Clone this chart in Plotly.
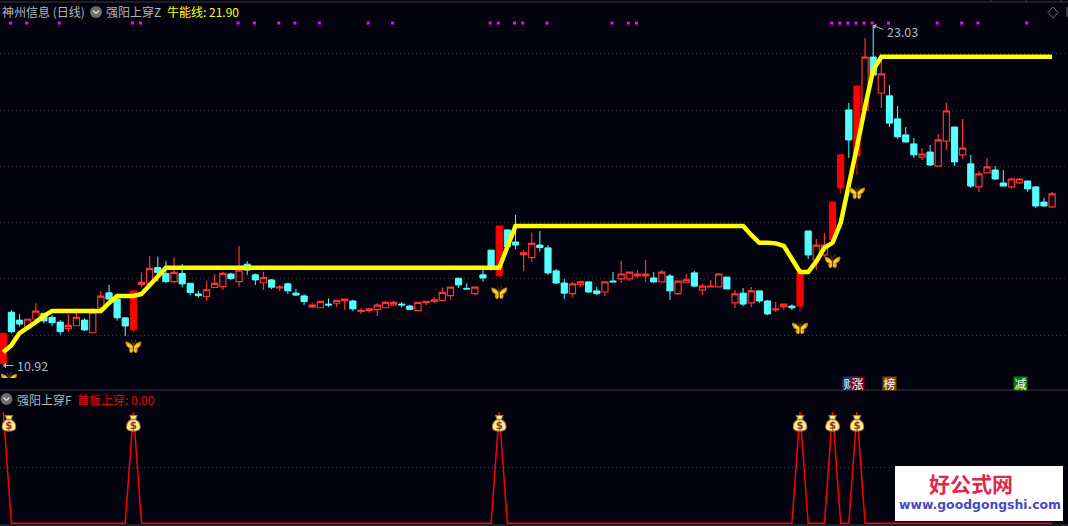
import plotly.graph_objects as go
from urllib.parse import quote

W, H = 1068, 526
BG = "#03030f"

open_ = [10.99,12.81,12.53,12.24,12.57,12.77,12.63,12.46,12.23,12.33,12.53,12.08,12.97,13.50,13.28,12.61,12.18,13.80,13.84,14.40,
 14.19,13.90,14.19,13.84,13.46,13.37,13.69,13.72,14.17,13.90,14.52,14.14,13.86,13.96,13.68,13.82,13.49,13.39,13.00,12.97,
 13.10,13.13,13.22,13.21,12.84,12.87,12.90,12.97,13.07,13.10,13.03,12.87,13.15,13.20,13.22,13.40,14.02,13.66,13.47,14.14,
 15.02,14.11,15.74,15.31,14.86,14.75,15.20,15.10,14.28,13.85,13.47,13.79,13.89,13.57,13.53,13.92,14.00,14.00,14.10,14.10,
 14.03,13.89,14.10,13.47,13.86,14.21,13.60,13.71,13.71,14.06,13.14,13.49,13.14,13.57,13.21,12.89,13.01,13.03,13.03,15.70,
 14.67,14.85,15.38,17.23,20.01,18.37,20.01,21.89,20.61,20.51,19.69,19.12,18.80,18.33,18.51,18.01,18.90,19.40,18.41,18.09,
 17.27,17.77,17.87,17.41,17.27,17.41,17.48,17.27,16.73,16.56]
close = [12.06,12.12,12.39,12.56,12.85,12.50,12.44,12.12,12.34,12.63,12.18,12.81,13.38,13.28,12.61,12.32,13.57,13.87,14.37,14.22,
 13.90,14.23,13.82,13.51,13.40,13.61,13.84,14.19,14.01,14.31,14.31,13.96,14.04,13.70,13.71,13.57,13.42,13.19,13.06,13.20,
 13.07,13.23,13.28,12.93,12.88,12.93,13.06,13.16,13.16,13.07,12.91,13.16,13.20,13.25,13.52,13.70,13.78,13.64,13.70,14.03,
 14.43,15.88,15.14,15.20,14.92,15.26,15.11,14.21,13.85,13.49,13.82,13.89,13.53,13.47,13.89,13.89,14.17,14.24,14.17,14.17,
 13.89,14.24,13.57,13.92,13.96,13.74,13.74,13.74,14.17,13.64,13.46,13.10,13.57,13.21,12.75,12.93,13.10,12.97,14.24,14.85,
 15.20,15.20,16.73,18.41,18.94,20.86,21.89,21.25,21.29,19.54,19.05,18.87,18.41,18.44,18.05,18.94,19.97,18.16,18.65,17.30,
 17.73,17.98,17.55,17.30,17.55,17.55,17.20,16.59,16.59,17.02]
high = [12.06,12.89,12.75,12.56,13.13,12.77,12.71,12.53,12.75,12.95,12.59,12.95,13.57,13.78,13.48,12.61,13.57,14.22,14.81,14.79,
 14.63,14.76,14.53,13.84,13.57,13.92,14.16,14.25,14.22,15.17,14.63,14.19,14.25,13.99,13.78,13.87,13.64,13.45,13.16,13.20,
 13.30,13.23,13.28,13.25,12.95,12.97,13.13,13.21,13.21,13.17,13.07,13.16,13.20,13.34,13.70,13.70,14.02,13.84,13.70,14.34,
 15.02,15.88,15.74,16.27,15.02,15.65,15.70,15.20,14.35,13.99,13.89,13.93,13.89,13.71,13.89,14.24,14.63,14.24,14.31,14.67,
 14.24,14.31,14.17,13.92,14.17,14.28,13.82,13.96,14.21,14.06,13.60,13.67,13.71,13.57,13.25,13.17,13.10,13.09,14.24,15.70,
 15.42,15.63,16.73,18.41,20.26,20.86,22.57,23.03,21.79,20.90,20.15,19.40,19.01,18.65,18.76,19.15,20.26,19.40,19.69,18.41,
 17.84,18.30,18.01,17.87,17.59,17.59,17.48,17.30,16.88,17.09]
low = [10.92,12.06,12.30,12.18,12.53,12.42,12.32,12.01,12.12,12.33,12.14,12.08,12.89,13.25,12.51,11.97,12.12,13.70,13.78,13.90,
 13.84,13.84,13.70,13.42,13.33,13.22,13.69,13.60,13.96,13.72,14.14,13.78,13.60,13.63,13.57,13.46,13.39,13.07,12.96,12.97,
 13.00,13.00,12.89,12.85,12.75,12.79,12.68,12.97,13.03,12.98,12.89,12.87,13.07,13.13,13.22,13.25,13.68,13.64,13.42,13.90,
 14.29,14.05,15.08,15.06,14.28,14.61,14.97,14.14,13.82,13.28,13.35,13.71,13.49,13.42,13.39,13.89,13.85,13.92,14.03,13.89,
 13.85,13.89,13.25,13.42,13.86,13.71,13.42,13.71,13.71,13.64,12.96,13.03,13.00,13.14,12.71,12.82,12.89,12.89,12.82,14.70,
 14.31,14.78,15.27,17.02,18.30,17.69,20.01,21.25,20.08,19.40,18.98,18.83,18.30,18.23,18.01,18.01,18.58,18.01,18.26,17.23,
 17.09,17.77,17.52,17.30,17.20,17.37,17.09,16.52,16.56,16.52]
bull_line = [11.39,11.64,12.07,12.25,12.46,12.68,12.85,12.85,12.85,12.85,12.85,12.85,12.85,13.14,13.39,13.39,13.39,13.46,13.78,14.10,
 14.39,14.39,14.39,14.39,14.39,14.39,14.39,14.39,14.39,14.39,14.39,14.39,14.39,14.39,14.39,14.39,14.39,14.39,14.39,14.39,
 14.39,14.39,14.39,14.39,14.39,14.39,14.39,14.39,14.39,14.39,14.39,14.39,14.39,14.39,14.39,14.39,14.39,14.39,14.39,14.39,
 14.39,14.39,15.13,15.88,15.88,15.88,15.88,15.88,15.88,15.88,15.88,15.88,15.88,15.88,15.88,15.88,15.88,15.88,15.88,15.88,
 15.88,15.88,15.88,15.88,15.88,15.88,15.88,15.88,15.88,15.88,15.88,15.88,15.56,15.28,15.28,15.26,15.17,14.67,14.24,14.24,
 14.62,15.10,15.28,15.99,17.27,18.69,20.12,21.43,21.90,21.90,21.90,21.90,21.90,21.90,21.90,21.90,21.90,21.90,21.90,21.90,
 21.90,21.90,21.90,21.90,21.90,21.90,21.90,21.90,21.90,21.90]

filled_idx = [0, 16, 61, 98, 102, 103, 105]
signal_idx = [0, 16, 61, 98, 102, 105]
dot_idx = [1,3,7,16,17,29,31,34,36,39,45,48,60,61,63,64,67,75,77,78,102,103,104,105,106,107,109,115,118,120,126]
dot_level = [23.10]
butterfly_x = [0.69, 16, 61, 98, 102, 105]
butterfly_y = [10.46, 11.61, 13.53, 12.28, 14.63, 17.09]
bag_x = [0.69, 16, 61, 98, 102, 105]
bag_y = [0.90, 0.90, 0.90, 0.90, 0.90, 0.90]
grid_main = [12, 14, 16, 18, 20, 22]
grid_lower = [0.5]

idx = list(range(len(close)))
hollow_idx = [i for i in idx if i not in filled_idx]
signal = [1 if i in signal_idx else 0 for i in idx]

def pick(a, ii):
    return [a[i] for i in ii]

RED, CYAN, YEL = "#ff3232", "#54ffff", "#ffff00"
XR = [-0.406, 130.96]
PX = 8.13

fig = go.Figure()
fig.add_trace(go.Candlestick(x=hollow_idx, open=pick(open_, hollow_idx), high=pick(high, hollow_idx),
    low=pick(low, hollow_idx), close=pick(close, hollow_idx), whiskerwidth=0,
    increasing=dict(line=dict(color=RED, width=1.2), fillcolor=BG),
    decreasing=dict(line=dict(color=CYAN, width=1), fillcolor=CYAN), xaxis="x", yaxis="y"))
fig.add_trace(go.Candlestick(x=filled_idx, open=pick(open_, filled_idx), high=pick(high, filled_idx),
    low=pick(low, filled_idx), close=pick(close, filled_idx), whiskerwidth=0,
    increasing=dict(line=dict(color="#ff0000", width=1), fillcolor="#ff0000"),
    decreasing=dict(line=dict(color=CYAN, width=1), fillcolor=CYAN), xaxis="x", yaxis="y"))
fig.add_trace(go.Scatter(x=idx, y=bull_line, mode="lines", line=dict(color=YEL, width=4.5), xaxis="x", yaxis="y"))
fig.add_trace(go.Scatter(x=[i - 0.12 for i in dot_idx], y=dot_level * len(dot_idx), mode="markers",
    marker=dict(symbol="square", size=3, color="#ff00ff", line=dict(width=0)), xaxis="x", yaxis="y"))
fig.add_trace(go.Scatter(x=idx, y=signal, mode="lines", line=dict(color="#ff0000", width=1.5), xaxis="x2", yaxis="y2"))

butterfly = ("<svg xmlns='http://www.w3.org/2000/svg' viewBox='0 0 16 14'>"
    "<path d='M8 8C6 4.500 3 3 .2 3 .5 6 1.800 8.500 4.500 9 3.500 11 4 13.500 5.800 13.800 7.500 13.500 8 11 8 8Z' fill='#e8a810' stroke='#c88a10' stroke-width='.8'/>"
    "<path d='M8 8C10 4.500 13 3 15.800 3 15.500 6 14.200 8.500 11.500 9 12.500 11 12 13.500 10.200 13.800 8.500 13.500 8 11 8 8Z' fill='#e8a810' stroke='#c88a10' stroke-width='.8'/>"
    "<path d='M7 8C5 6 3.500 5 2 5 3 7 4.500 8.500 7 9ZM9 8C11 6 12.500 5 14 5 13 7 11.500 8.500 9 9ZM7 10C6 11 5.500 12 6 13 7 12.500 7.500 11 7 10ZM9 10C10 11 10.500 12 10 13 9 12.500 8.500 11 9 10Z' fill='#ffe838'/>"
    "<path d='M8 12V6M8 6 6 1.500M8 6 10.500 .8' stroke='#5a3c06' stroke-width='1' fill='none'/></svg>")
bag = ("<svg xmlns='http://www.w3.org/2000/svg' viewBox='0 0 14 16'>"
    "<path d='M3.500 .5H10.500L9 4.500C12 6 13.500 9 13.500 11.500 13.500 14.500 10.500 15.500 7 15.500 3.500 15.500 .5 14.500 .5 11.500 .5 9 2 6 5 4.500Z' fill='#fbee88' stroke='#9a6a40' stroke-width='1'/>"
    "<path d='M4.500 4.500H9.500' stroke='#c08020' stroke-width='1.400'/>"
    "<text x='7' y='13.500' font-size='9.500' font-weight='bold' font-family='DejaVu Sans' text-anchor='middle' fill='#8a3a30'>$</text></svg>")
def uri(s):
    return "data:image/svg+xml," + quote(s)

images = []
for x, y in zip(butterfly_x, butterfly_y):
    images.append(dict(source=uri(butterfly), xref="x", yref="y", x=x, y=y, sizex=16/PX, sizey=14/28.1,
                       xanchor="center", yanchor="middle", sizing="stretch", layer="above"))
for x, y in zip(bag_x, bag_y):
    images.append(dict(source=uri(bag), xref="x2", yref="y2", x=x, y=y, sizex=15/PX, sizey=17/111.3,
                       xanchor="center", yanchor="middle", sizing="stretch", layer="above"))

def X(p): return p / W
def Y(p): return 1 - p / H

CJK = "Noto Sans CJK SC"
GREY = "#aeb6be"
def label(x, y, text, color=GREY, size=12, family=CJK, anchor="left", **kw):
    return dict(xref="paper", yref="paper", x=X(x), y=Y(y), text=text, showarrow=False, xanchor=anchor,
                yanchor="middle", font=dict(family=family, size=size, color=color), borderpad=0, **kw)
def tag(x0, text, color):
    return label(x0, 383, text, "#ffffff", 12, CJK, bgcolor=color, width=13, height=13, align="center")

annos = [
    label(1, 11.5, "神州信息 (日线)"),
    label(104.5, 11.5, "强阳上穿Z"),
    label(165.5, 11.5, "牛能线: 21.90", "#ffff00"),
    label(16, 399, "强阳上穿F"),
    label(75.5, 399, "首板上穿: 0.00", "#ee0000"),
    label(15.5, 365.5, "10.92", GREY, 12.5),
    label(886, 31.7, "23.03", GREY, 12.5),
    tag(842, "财", "#0a3a70"), tag(850, "涨", "#7c0808"), tag(882, "榜", "#7a4808"), tag(1013, "减", "#0a7a0a"),
    label(971, 483, "<b>好公式网</b>", "#e0284e", 21, CJK, anchor="center"),
    label(980, 504, "<b>www.goodgongshi.com</b>", "#4848c0", 12.4, "DejaVu Sans", anchor="center"),
    dict(xref="paper", yref="paper", axref="pixel", ayref="pixel", x=X(3), y=Y(365.5), ax=12, ay=0, text="",
         showarrow=True, arrowhead=1, arrowsize=1, arrowwidth=1, arrowcolor=GREY),
    dict(xref="paper", yref="paper", axref="pixel", ayref="pixel", x=X(873), y=Y(25.5), ax=12, ay=4.5, text="",
         showarrow=True, arrowhead=1, arrowsize=1, arrowwidth=1, arrowcolor=GREY),
]

def rect(x0, y0, x1, y1, fill, layer="above"):
    return dict(type="rect", xref="paper", yref="paper", x0=X(x0), y0=Y(y0), x1=X(x1), y1=Y(y1),
                fillcolor=fill, line=dict(width=0), layer=layer)
def seg(x0, y0, x1, y1, color="#383838", w=1):
    return dict(type="line", xref="paper", yref="paper", x0=X(x0), y0=Y(y0), x1=X(x1), y1=Y(y1),
                line=dict(color=color, width=w), layer="above")
def circ(cx, cy, r=6):
    return dict(type="circle", xref="paper", yref="paper", x0=X(cx-r), y0=Y(cy-r), x1=X(cx+r), y1=Y(cy+r),
                fillcolor="#6c6c6c", line=dict(width=0), layer="above")
def chev(cx, cy):
    return [seg(cx-3, cy-1.5, cx, cy+1.5, "#e0e0e0", 1.3), seg(cx, cy+1.5, cx+3, cy-1.5, "#e0e0e0", 1.3)]

shapes = [seg(0, 2, W, 2), seg(0, 390, W, 390, "#3a3a3a"), seg(0, 525, W, 525, "#3a3a3a")]
shapes += [seg(t, 0, t, 2) for t in (95, 991, 1026, 1061)]
shapes += [circ(96, 12), circ(6.5, 399)] + chev(96, 12) + chev(6.5, 399)
shapes += [seg(1053, 7, 1058, 12.5, "#6a6a6a"), seg(1058, 12.5, 1053, 18, "#6a6a6a"),
           seg(1053, 18, 1048, 12.5, "#6a6a6a"), seg(1048, 12.5, 1053, 7, "#6a6a6a"),
           seg(1067, 7, 1067, 17, "#6a6a6a")]
shapes.append(rect(895, 466, 1063, 521, "#ffffff"))

axis_off = dict(showgrid=False, zeroline=False, showline=False, showticklabels=False, ticks="")
grid = dict(zeroline=False, showline=False, showticklabels=False, ticks="", showgrid=True,
            gridcolor="#3c3c36", griddash="1px,3px", gridwidth=1, tickmode="array")

fig.update_layout(
    width=W, height=H, margin=dict(l=0, r=0, t=0, b=0, pad=0), showlegend=False, autosize=False,
    paper_bgcolor=BG, plot_bgcolor=BG, boxgap=0.24, boxgroupgap=0, boxmode="overlay", hovermode=False,
    xaxis=dict(range=XR, domain=[0, 1], anchor="y", rangeslider=dict(visible=False), **axis_off),
    yaxis=dict(range=[10.47, 23.92], domain=[1 - 378/H, 1], anchor="x", tickvals=grid_main, **grid),
    xaxis2=dict(range=XR, domain=[0, 1], anchor="y2", rangeslider=dict(visible=False), **axis_off),
    yaxis2=dict(range=[-0.015, 1.189], domain=[1 - 525/H, 1 - 391/H], anchor="x2", tickvals=grid_lower, **grid),
    images=images, annotations=annos, shapes=shapes,
)
fig.write_html("out.html", config=dict(displayModeBar=False),
               post_script="document.body.style.margin='0';document.body.style.background='#03030f';document.body.style.overflow='hidden';")
